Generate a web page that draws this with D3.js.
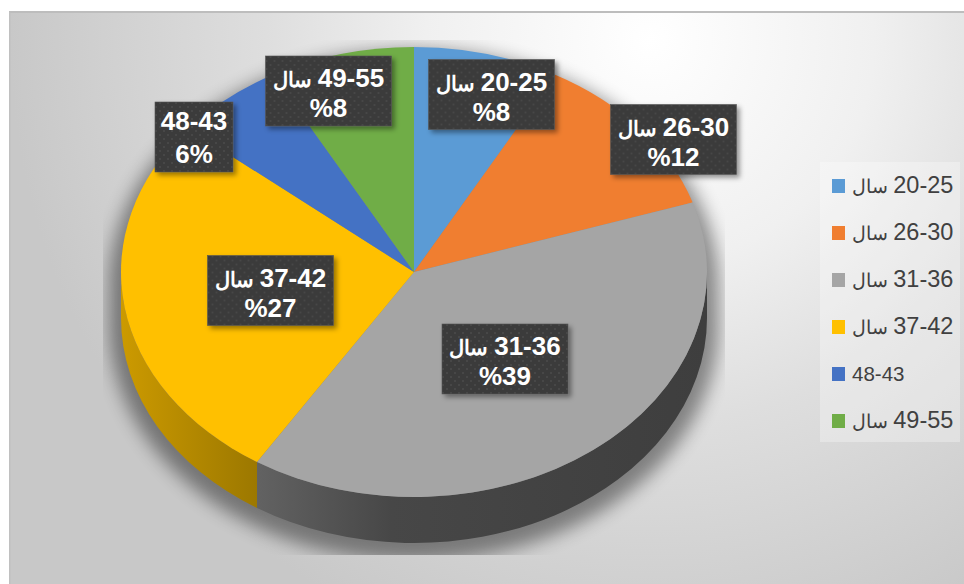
<!DOCTYPE html>
<html><head><meta charset="utf-8">
<script src="https://cdn.jsdelivr.net/npm/d3@7"></script>
<style>html,body{margin:0;padding:0;background:#fff}svg{display:block}
text{font-family:"Liberation Sans",Arial,sans-serif}</style></head>
<body><svg id="c" width="964" height="584"></svg>
<script>
const categories=["20-25 سال","26-30 سال","31-36 سال","37-42 سال","48-43","49-55 سال"];
const values=[8,12,39,27,6,8];
const valueLabels=["%8","%12","%39","%27","6%","%8"];
const colors=["#5b9bd5","#f07e30","#a5a5a5","#ffc000","#4472c4","#70ad47"];
const wallStops=[null,null,[[0,"#626262"],[.3,"#474747"],[1,"#3e3e3e"]],[[0,"#cc9a00"],[1,"#9c7800"]],null,null];
const labelCenters=[[491.5,94.5],[673.5,139.5],[505,359],[270.5,290.5],[194,137],[328.5,91]];

const W=964,H=584,cx=414,cy=272,rx=293,ry=225,depth=46;
const svg=d3.select("#c");
const defs=svg.append("defs");

const bg=defs.append("radialGradient").attr("id","bg").attr("gradientUnits","userSpaceOnUse")
 .attr("cx",650).attr("cy",40).attr("r",640);
bg.selectAll("stop").data([[0,"#ffffff"],[.35,"#f0f0f0"],[.6,"#dedede"],[1,"#c8c8c8"]]).join("stop")
 .attr("offset",d=>d[0]).attr("stop-color",d=>d[1]);

const blur=defs.append("filter").attr("id","blur").attr("filterUnits","userSpaceOnUse")
 .attr("x",0).attr("y",0).attr("width",W).attr("height",H);
blur.append("feGaussianBlur").attr("stdDeviation",9);

const ds=defs.append("filter").attr("id","ds").attr("x","-15%").attr("y","-15%").attr("width","130%").attr("height","130%");
ds.append("feDropShadow").attr("dx",3).attr("dy",3).attr("stdDeviation",2.5).attr("flood-color","#000").attr("flood-opacity",.4);

defs.append("clipPath").attr("id","shadowClip").append("rect").attr("x",103).attr("y",40).attr("width",622).attr("height",515);

const pat=defs.append("pattern").attr("id","dots").attr("patternUnits","userSpaceOnUse").attr("width",8).attr("height",8);
pat.append("rect").attr("width",8).attr("height",8).attr("fill","#3b3b3b");
pat.append("rect").attr("x",1).attr("y",1).attr("width",2).attr("height",2).attr("fill","#474747");
pat.append("rect").attr("x",5).attr("y",5).attr("width",2).attr("height",2).attr("fill","#474747");

// Panel
svg.append("rect").attr("x",9).attr("y",12).attr("width",W-9).attr("height",H-12).attr("fill","url(#bg)");
svg.append("rect").attr("x",9).attr("y",11).attr("width",W-9).attr("height",2).attr("fill","#bdbdbd");
svg.append("rect").attr("x",9).attr("y",12).attr("width",1.5).attr("height",H-12).attr("fill","#c0c0c0");

const pie=d3.pie().sort(null).value(d=>d);
const arcs=pie(values);
const arc=d3.arc().innerRadius(0).outerRadius(rx);
const sy=ry/rx;

// Shadow
const shadow=svg.append("g").attr("clip-path","url(#shadowClip)").append("g").attr("filter","url(#blur)").attr("opacity",.42);
const pad=12;
shadow.append("path").attr("fill","#000")
 .attr("d",`M${cx-rx-pad},${cy+14}A${rx+pad},${ry+pad} 0 0 1 ${cx+rx+pad},${cy+14}L${cx+rx+pad},${cy+depth+6}A${rx+pad},${ry+pad} 0 0 1 ${cx-rx-pad},${cy+depth+6}Z`);

// Side wall
const pt=(a)=>[cx+rx*Math.sin(a),cy-ry*Math.cos(a)];
arcs.forEach((s,i)=>{
  const a0=Math.max(s.startAngle,Math.PI/2), a1=Math.min(s.endAngle,3*Math.PI/2);
  if(a1<=a0) return;
  const [x0,y0]=pt(a0),[x1,y1]=pt(a1);
  const lg=a1-a0>Math.PI?1:0;
  const id="wall"+i, gs=wallStops[i]||[[0,colors[i]],[1,colors[i]]];
  const g=defs.append("linearGradient").attr("id",id).attr("gradientUnits","userSpaceOnUse")
    .attr("x1",Math.min(x0,x1)).attr("x2",Math.max(x0,x1)).attr("y1",0).attr("y2",0);
  g.selectAll("stop").data(gs).join("stop").attr("offset",d=>d[0]).attr("stop-color",d=>d[1]);
  svg.append("path").attr("fill",`url(#${id})`)
   .attr("d",`M${x0},${y0}A${rx},${ry} 0 ${lg} 1 ${x1},${y1}L${x1},${y1+depth}A${rx},${ry} 0 ${lg} 0 ${x0},${y0+depth}Z`);
});

// Top face
svg.append("g").attr("transform",`translate(${cx},${cy}) scale(1,${sy})`)
 .selectAll("path").data(arcs).join("path").attr("d",arc).attr("fill",(d,i)=>colors[i]);

// Writes a category: numerals and the Arabic word carry separate sizes, as in the reference
function writeCategory(sel,numSize,wordSize){
  sel.each(function(d,i){
    const parts=categories[i].split(" ");
    const t=d3.select(this);
    t.append("tspan").attr("font-size",numSize).text(parts[0]);
    if(parts[1]) t.append("tspan").attr("font-size",wordSize).text(" "+parts[1]);
  });
}

// Data labels
const lab=svg.append("g").selectAll("g").data(arcs).join("g")
 .attr("transform",(d,i)=>`translate(${labelCenters[i][0]},${labelCenters[i][1]})`);
lab.append("rect")
 .attr("x",(d,i)=>i===4?-39:-63).attr("y",-35).attr("width",(d,i)=>i===4?78:126).attr("height",70)
 .attr("fill","url(#dots)").attr("stroke","#555").attr("stroke-width",.6).attr("filter","url(#ds)");
lab.append("text").attr("text-anchor","middle").attr("y",(d,i)=>i===4?-7:-4).attr("fill","#fff").attr("font-weight",700)
 .attr("direction","rtl").call(writeCategory,26,21);
lab.append("text").attr("text-anchor","middle").attr("y",26).attr("fill","#fff").attr("font-weight",700).attr("font-size",26)
 .attr("direction","ltr").text((d,i)=>valueLabels[i]);

// Legend
svg.append("rect").attr("x",820).attr("y",162).attr("width",140).attr("height",280).attr("fill","#fff").attr("opacity",.3);
const ly=d3.scalePoint().domain(categories).range([186,421]);
const leg=svg.append("g").selectAll("g").data(categories).join("g").attr("transform",d=>`translate(832,${ly(d)})`);
leg.append("rect").attr("y",-7).attr("width",13).attr("height",14).attr("fill",(d,i)=>colors[i]);
leg.append("text").attr("x",20).attr("y",7).attr("fill","#404040")
 .attr("direction","rtl").attr("text-anchor","end")
 .each(function(d,i){
   const parts=d.split(" "), t=d3.select(this);
   t.append("tspan").attr("font-size",parts[1]?23.5:20.5).text(parts[0]);
   if(parts[1]) t.append("tspan").attr("font-size",19).text(" "+parts[1]);
 });
</script></body></html>
